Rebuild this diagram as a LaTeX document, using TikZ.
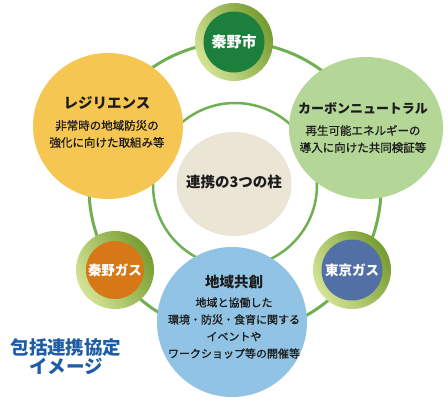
\documentclass[tikz,border=0pt]{standalone}
\usepackage{fontspec}
\setmainfont{Noto Sans CJK JP}
\newfontfamily\jpmed[FakeBold=0.9]{Noto Sans CJK JP}
\usetikzlibrary{shapes.geometric}
\definecolor{ringgreen}{RGB}{112,176,82}
\definecolor{yellowc}{RGB}{246,198,82}
\definecolor{greenc}{RGB}{180,215,152}
\definecolor{bluec}{RGB}{145,195,228}
\definecolor{beigec}{RGB}{235,229,213}
\definecolor{hadanoc}{RGB}{28,128,60}
\definecolor{hgasc}{RGB}{214,120,22}
\definecolor{tgasc}{RGB}{82,112,166}
\definecolor{shadedark}{RGB}{118,156,48}
\definecolor{shadelight}{RGB}{212,228,150}
\definecolor{txt}{RGB}{28,28,28}
\definecolor{titleblue}{RGB}{30,92,165}
\tikzset{
  bigdisc/.style={ellipse, inner sep=0pt, draw=none},
  smallring/.style={circle, inner sep=0pt, minimum size=78, left color=shadedark, right color=shadelight, shading angle=-60},
  smallcore/.style={circle, inner sep=0pt, minimum size=61, text=white, font=\bfseries\fontsize{13.5}{16}\selectfont},
  ttl/.style={text=txt, font=\bfseries\fontsize{14.5}{17}\selectfont, inner sep=0pt},
  subtxt/.style={text=txt, align=center, font=\jpmed\fontsize{11.5}{17}\selectfont, inner sep=0pt},
}
\begin{document}
\begin{tikzpicture}[x=1pt,y=-1pt]
\useasboundingbox (0,0) rectangle (448,402);
\fill[white] (0,0) rectangle (448,402);
% rings
\coordinate (ctr) at (235,188);
\coordinate (ictr) at (235,185);
\draw[ringgreen, line width=3] (ctr) circle[radius=146];
\draw[ringgreen, line width=2.5] (ictr) circle[radius=82];
% centre
\node[bigdisc, fill=beigec, minimum width=115, minimum height=104] (pillar) at (234,184) {};
\node[ttl] (pillart) at (234,182) {連携の3つの柱};
% resilience
\node[bigdisc, fill=yellowc, minimum width=150, minimum height=146] (res) at (108,126) {};
\node[ttl] (rest) at (107,103) {レジリエンス};
\node[subtxt] (ress) at (107,134) {非常時の地域防災の\\強化に向けた取組み等};
% carbon neutral
\node[bigdisc, fill=greenc, minimum width=154, minimum height=142] (cn) at (366,128) {};
\node[ttl, font=\bfseries\fontsize{13}{16}\selectfont] (cnt) at (363,108) {カーボンニュートラル};
\node[subtxt] (cns) at (363,139) {再生可能エネルギーの\\導入に向けた共同検証等};
% regional co-creation
\node[bigdisc, fill=bluec, minimum width=150, minimum height=150] (rc) at (232,322) {};
\node[ttl] (rct) at (234,282) {地域共創};
\node[subtxt, font=\jpmed\fontsize{11}{17}\selectfont] (rcs) at (234,328) {地域と協働した\\環境・防災・食育に関する\\イベントや\\ワークショップ等の開催等};
% small circles
\node[smallring] (hadano) at (234,42) {};
\node[smallcore, fill=hadanoc, font=\bfseries\fontsize{15}{17}\selectfont] (hadanoin) at (hadano) {秦野市};
\node[smallring] (hgas) at (115,270) {};
\node[smallcore, fill=hgasc, minimum size=58] (hgasin) at (hgas) {秦野ガス};
\node[smallring] (tgas) at (352,270) {};
\node[smallcore, fill=tgasc] (tgasin) at (tgas) {東京ガス};
% caption
\node[text=titleblue, align=center, font=\bfseries\fontsize{18.5}{19}\selectfont, inner sep=0pt] (cap) at (66,357) {包括連携協定\\イメージ};
\end{tikzpicture}
\end{document}
